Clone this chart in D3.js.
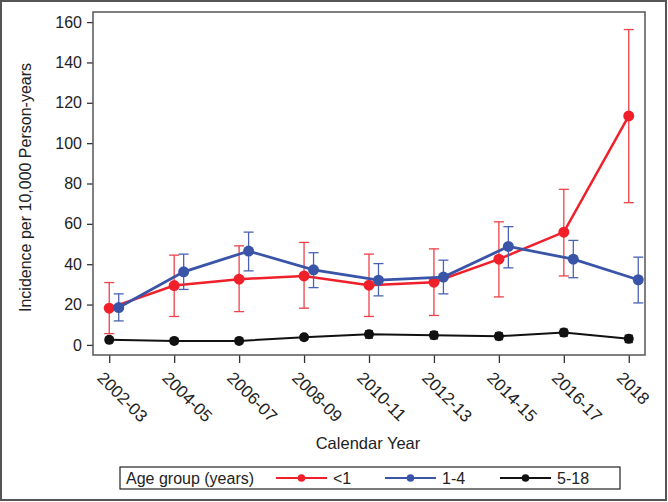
<!DOCTYPE html>
<html><head><meta charset="utf-8">
<script src="https://cdn.jsdelivr.net/npm/d3@7"></script>
<style>body{margin:0;background:#fff}svg{display:block}text{font-family:"Liberation Sans",Arial,sans-serif;fill:#222}</style>
</head><body>
<script>
const categories = ["2002-03","2004-05","2006-07","2008-09","2010-11","2012-13","2014-15","2016-17","2018"];
const yTicks = [0,20,40,60,80,100,120,140,160];
const under1 = [18.2,29.4,32.6,34.2,29.6,31.1,42.5,55.9,113.5];
const under1Lo = [5.6,14.1,16.5,18.2,14.1,14.6,23.8,34.2,70.5];
const under1Hi = [30.9,44.5,49.1,50.8,45.0,47.6,61.0,77.1,156.3];
const age1to4 = [18.5,36.2,46.5,37.2,32.1,33.6,48.8,42.5,32.3];
const age1to4Lo = [11.9,27.5,36.7,28.4,24.3,25.3,38.2,33.3,20.8];
const age1to4Hi = [25.3,45.0,55.9,45.7,40.3,42.0,58.6,51.8,43.5];
const age5to18 = [2.5,2.0,2.0,3.8,5.3,4.8,4.3,6.1,3.0];
const age5to18Lo = [1.5,1.2,1.2,2.6,3.4,3.0,2.6,4.4,1.2];
const age5to18Hi = [3.5,2.8,2.8,5.0,7.0,6.6,6.0,7.8,4.8];
const seriesNames = ["<1","1-4","5-18"];

const W=668,H=502;
const svg=d3.select("body").append("svg").attr("width",W).attr("height",H);
svg.append("rect").attr("x",1).attr("y",1).attr("width",W-3).attr("height",H-3)
  .attr("fill","none").attr("stroke","#555").attr("stroke-width",2);

const L=93,R=645,T=12,B=355;
const x=d3.scalePoint().domain(categories).range([L,R]).padding(0.25);
const y=d3.scaleLinear().domain([-5,165]).range([B,T]);
const off=x.step()*0.146;

// y axis
const yAxis=svg.append("g").attr("transform",`translate(${L},0)`)
  .call(d3.axisLeft(y).tickValues(yTicks).tickSize(6).tickPadding(5));
yAxis.select(".domain").remove();
yAxis.selectAll("line").attr("stroke","#333").attr("stroke-width",1.3);
yAxis.selectAll("text").attr("font-size",16).attr("fill","#222").attr("font-family","Liberation Sans, Arial, sans-serif");

// x axis
const xAxis=svg.append("g").attr("transform",`translate(0,${B})`)
  .call(d3.axisBottom(x).tickSize(8).tickFormat(""));
xAxis.select(".domain").remove();
xAxis.selectAll("line").attr("stroke","#333").attr("stroke-width",1.3);
svg.append("g").selectAll("text").data(categories).join("text")
  .attr("transform",d=>`translate(${x(d)-13},379) rotate(45)`)
  .attr("font-size",17).text(d=>d);

// plot frame
svg.append("rect").attr("x",L).attr("y",T).attr("width",R-L).attr("height",B-T)
  .attr("fill","none").attr("stroke","#555").attr("stroke-width",1.5);

// labels
svg.append("text").attr("transform",`translate(31,${(T+B)/2+4}) rotate(-90)`)
  .attr("text-anchor","middle").attr("font-size",16).text("Incidence per 10,000 Person-years");
svg.append("text").attr("x",368).attr("y",449).attr("text-anchor","middle")
  .attr("font-size",16.5).text("Calendar Year");

const series=[
  {name:seriesNames[0],v:under1,lo:under1Lo,hi:under1Hi,color:"#f0202a",err:"#f04048",dx:0,lw:2.5,r:5.5,cap:5},
  {name:seriesNames[1],v:age1to4,lo:age1to4Lo,hi:age1to4Hi,color:"#3a55a8",err:"#4a62b4",dx:off,lw:2.8,r:5.5,cap:5},
  {name:seriesNames[2],v:age5to18,lo:age5to18Lo,hi:age5to18Hi,color:"#111",err:"#111",dx:0,lw:2,r:5,cap:4}
];
const line=d3.line();
series.forEach(s=>{
  const g=svg.append("g");
  const pts=categories.map((c,i)=>({x:x(c)+s.dx,v:s.v[i],lo:s.lo[i],hi:s.hi[i]}));
  const eb=g.append("g").attr("stroke",s.err).attr("stroke-width",1.3).attr("fill","none");
  pts.forEach(p=>{
    eb.append("line").attr("x1",p.x).attr("x2",p.x).attr("y1",y(p.lo)).attr("y2",y(p.hi));
    eb.append("line").attr("x1",p.x-s.cap).attr("x2",p.x+s.cap).attr("y1",y(p.lo)).attr("y2",y(p.lo));
    eb.append("line").attr("x1",p.x-s.cap).attr("x2",p.x+s.cap).attr("y1",y(p.hi)).attr("y2",y(p.hi));
  });
  g.append("path").attr("d",line(pts.map(p=>[p.x,y(p.v)]))).attr("fill","none")
    .attr("stroke",s.color).attr("stroke-width",s.lw);
  g.selectAll("circle").data(pts).join("circle").attr("cx",p=>p.x).attr("cy",p=>y(p.v))
    .attr("r",s.r).attr("fill",s.color);
});

// legend
const lg=svg.append("g");
lg.append("rect").attr("x",120).attr("y",467).attr("width",500).attr("height",22)
  .attr("fill","#fff").attr("stroke","#222").attr("stroke-width",1.2);
lg.append("text").attr("x",126).attr("y",484).attr("font-size",16).text("Age group (years)");
const legX=[276,385,500];
series.forEach((s,i)=>{
  const x0=legX[i];
  lg.append("line").attr("x1",x0).attr("x2",x0+51).attr("y1",478).attr("y2",478)
    .attr("stroke",s.color).attr("stroke-width",2);
  lg.append("circle").attr("cx",x0+25.5).attr("cy",478).attr("r",3.8).attr("fill",s.color);
  lg.append("text").attr("x",x0+57).attr("y",484).attr("font-size",16).text(s.name);
});
</script>
</body></html>
